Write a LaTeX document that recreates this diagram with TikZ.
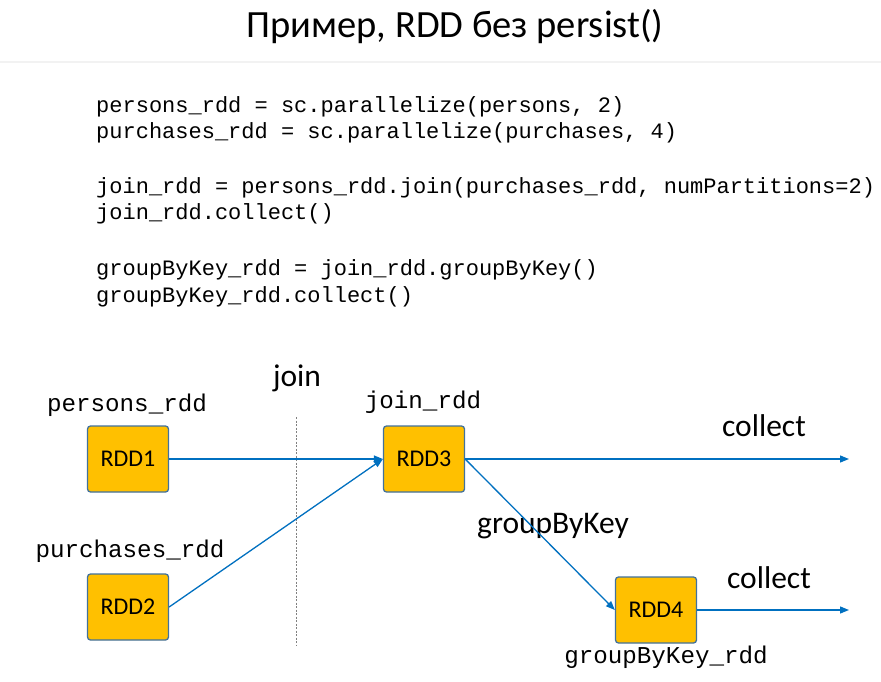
\documentclass[tikz,border=0pt]{standalone}
\usepackage{fontspec}
\setmainfont{Carlito}
\newfontfamily\codefont{Liberation Mono}
\usetikzlibrary{arrows.meta}
\definecolor{boxfill}{HTML}{FFC000}
\definecolor{boxline}{HTML}{41719C}
\definecolor{arrowblue}{HTML}{0070C0}
\definecolor{sepgray}{HTML}{F2F2F2}
\tikzset{
  rddbox/.style={draw=boxline, line width=1.3pt, fill=boxfill, rounded corners=3pt,
    minimum width=81pt, minimum height=66pt, inner sep=0pt,
    font=\fontsize{24}{28}\selectfont},
  codeline/.style={anchor=base west, inner sep=0pt, font=\codefont\fontsize{22}{26}\selectfont},
  varlabel/.style={inner sep=0pt, font=\codefont\fontsize{24.2}{28}\selectfont},
  oplabel/.style={inner sep=0pt, font=\fontsize{31.5}{36}\selectfont},
  flow/.style={draw=arrowblue, line width=1.3pt, -{Triangle[length=9pt,width=7pt]}},
}
\begin{document}
\begin{tikzpicture}[x=1pt,y=-1pt]
\useasboundingbox[fill=white] (0,0) rectangle (881,682);
\node[inner sep=0pt, font=\fontsize{38.5}{44}\selectfont] (title) at (455,27) {Пример, RDD без persist()};
\draw[sepgray, line width=2pt] (0,62) -- (881,62);
\node[codeline] (c1) at (96,112.5) {persons\_rdd = sc.parallelize(persons, 2)};
\node[codeline] (c2) at (96,138.5) {purchases\_rdd = sc.parallelize(purchases, 4)};
\node[codeline] (c3) at (96,193.5) {join\_rdd = persons\_rdd.join(purchases\_rdd, numPartitions=2)};
\node[codeline] (c4) at (96,219.5) {join\_rdd.collect()};
\node[codeline] (c5) at (96,275.5) {groupByKey\_rdd = join\_rdd.groupByKey()};
\node[codeline] (c6) at (96,302.5) {groupByKey\_rdd.collect()};

\draw[gray, line width=0.7pt, dashed, dash pattern=on 2pt off 1.5pt] (296,417) -- (296,645);

\node[rddbox] (r1) at (128,459) {RDD1};
\node[rddbox] (r2) at (128,607) {RDD2};
\node[rddbox] (r3) at (424,459) {RDD3};
\node[rddbox] (r4) at (656,610) {RDD4};

\node[varlabel] (l1) at (127,405) {persons\_rdd};
\node[varlabel] (l2) at (130,551) {purchases\_rdd};
\node[varlabel] (l3) at (423,402) {join\_rdd};
\node[varlabel] (l4) at (666,657) {groupByKey\_rdd};

\node[oplabel] (ojoin) at (297,378) {join};
\node[oplabel] (oc1) at (764,426) {collect};
\node[oplabel] (oc2) at (769,578) {collect};
\node[oplabel] (ogb) at (553,526) {groupByKey};

\coordinate (e1) at (849,459);
\coordinate (e2) at (849,610);
\draw[flow] (r1.east) -- (r3.west);
\draw[flow] (r2.east) -- (r3.west);
\draw[flow] (r3.east) -- (e1);
\draw[flow] (r3.east) -- (r4.west);
\draw[flow] (r4.east) -- (e2);
\end{tikzpicture}
\end{document}
